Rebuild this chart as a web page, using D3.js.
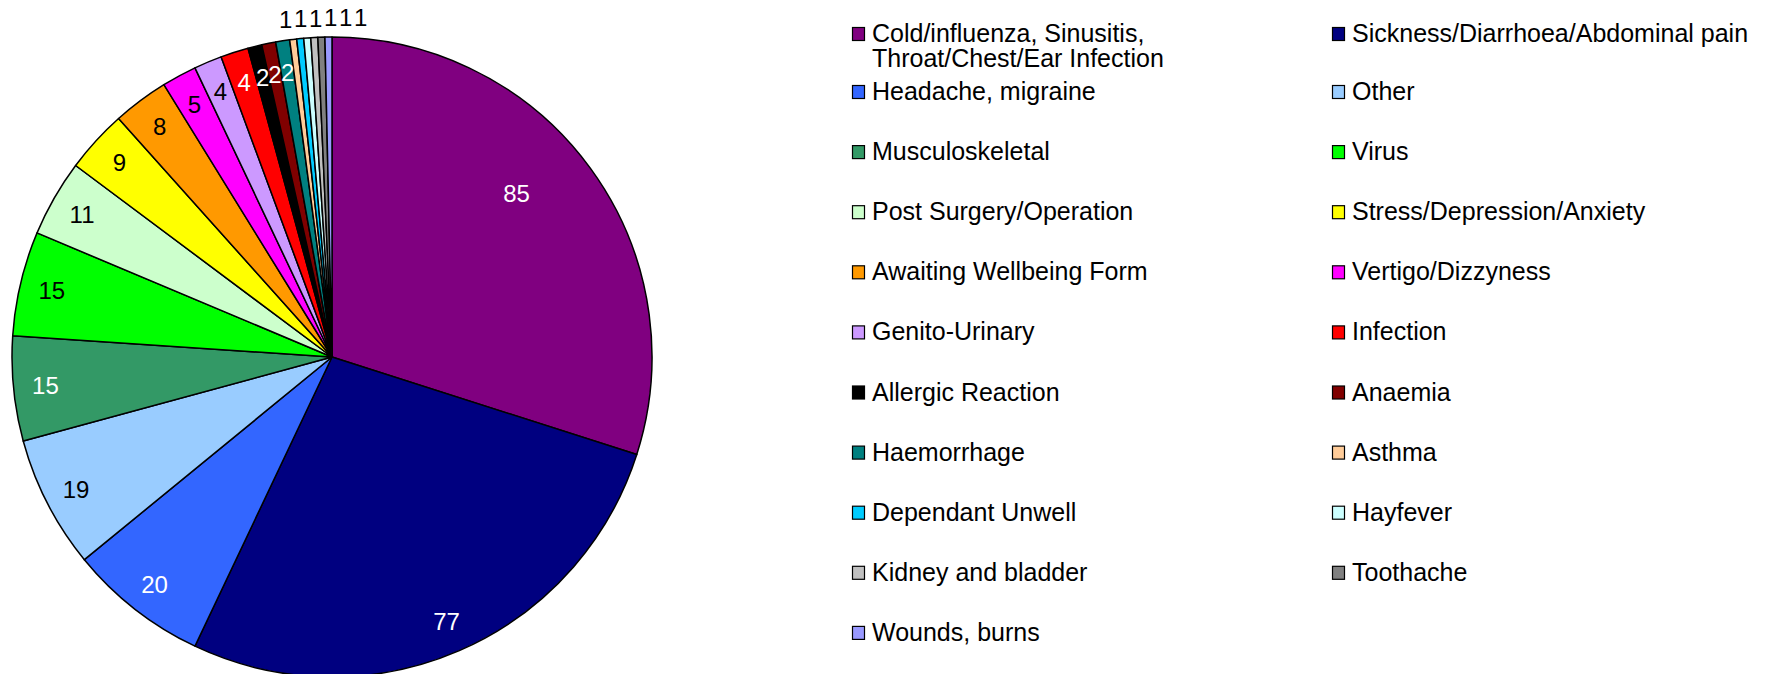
<html>
<head>
<script src="https://d3js.org/d3.v7.min.js"></script>
<style>
    body { margin: 0; background: #fff; }
    svg text { font-family: "Liberation Sans", Arial, sans-serif; }
</style>
</head>
<body>
<script>
    var categories = [
        "Cold/influenza, Sinusitis,|Throat/Chest/Ear Infection",
        "Sickness/Diarrhoea/Abdominal pain",
        "Headache, migraine",
        "Other",
        "Musculoskeletal",
        "Virus",
        "Post Surgery/Operation",
        "Stress/Depression/Anxiety",
        "Awaiting Wellbeing Form",
        "Vertigo/Dizzyness",
        "Genito-Urinary",
        "Infection",
        "Allergic Reaction",
        "Anaemia",
        "Haemorrhage",
        "Asthma",
        "Dependant Unwell",
        "Hayfever",
        "Kidney and bladder",
        "Toothache",
        "Wounds, burns"
    ];
    var values = [85, 77, 20, 19, 15, 15, 11, 9, 8, 5, 4, 4, 2, 2, 2, 1, 1, 1, 1, 1, 1];
    var colors = [
        "#800080", "#000080", "#3366FF", "#99CCFF", "#339966", "#00FF00", "#CCFFCC",
        "#FFFF00", "#FF9900", "#FF00FF", "#CC99FF", "#FF0000", "#000000", "#800000",
        "#008080", "#FFCC99", "#00CCFF", "#CCFFFF", "#C0C0C0", "#808080", "#9999FF"
    ];

    var data = categories.map(function(c, i) {
        return {name: c, value: values[i], color: colors[i]};
    });

    var width = 1775, height = 674;
    var cx = 332, cy = 357, radius = 320;

    var svg = d3.select("body").append("svg")
        .attr("width", width)
        .attr("height", height);

    var g = svg.append("g")
        .attr("transform", "translate(" + cx + "," + cy + ")");

    var pie = d3.pie()
        .sort(null)
        .value(function(d) { return d.value; });

    var arc = d3.arc().innerRadius(0).outerRadius(radius);
    var outerArc = d3.arc().innerRadius(radius + 20).outerRadius(radius + 20);

    var arcs = pie(data);

    g.selectAll("path.slice")
        .data(arcs)
        .enter().append("path")
            .attr("class", "slice")
            .attr("d", arc)
            .attr("fill", function(d) { return d.data.color; })
            .attr("stroke", "#000")
            .attr("stroke-width", 1.5)
            .attr("stroke-linejoin", "round");

    function textColor(c) {
        return d3.lab(c).l < 58 ? "#fff" : "#000";
    }

    // where a label sits inside its slice (very wide slices get pulled in a bit)
    function insidePos(d) {
        var span = d.endAngle - d.startAngle;
        var big = span > 100 * Math.PI / 180;
        var a = d.startAngle + span * (big ? 0.45 : 0.5);
        var r = radius * (big ? 0.77 : 0.9);
        return [r * Math.sin(a), -r * Math.cos(a)];
    }

    var inside = arcs.filter(function(d) { return d.data.value > 1; });
    g.selectAll("text.inlabel")
        .data(inside)
        .enter().append("text")
            .attr("class", "inlabel")
            .attr("transform", function(d) { return "translate(" + insidePos(d) + ")"; })
            .attr("text-anchor", "middle")
            .attr("dy", "0.36em")
            .attr("font-size", 24)
            .attr("fill", function(d) { return textColor(d.data.color); })
            .text(function(d) { return d.data.value; });

    // tiny slices get their labels outside, spread so they don't collide
    var outside = arcs.filter(function(d) { return d.data.value <= 1; })
        .map(function(d) {
            var p = outerArc.centroid(d);
            return {d: d, x: p[0], y: p[1]};
        });
    outside.sort(function(a, b) { return a.x - b.x; });
    outside[0].x -= 5;
    for (var i = 1; i < outside.length; i++) {
        outside[i].x = Math.max(outside[i].x, outside[i - 1].x + 15);
    }
    g.selectAll("text.outlabel")
        .data(outside)
        .enter().append("text")
            .attr("class", "outlabel")
            .attr("x", function(o) { return o.x; })
            .attr("y", function(o) { return o.y; })
            .attr("text-anchor", "middle")
            .attr("dy", "0.36em")
            .attr("font-size", 24)
            .attr("fill", "#000")
            .text(function(o) { return o.d.data.value; });

    // legend, two columns, row by row
    var colX = [852, 1332];
    function rowY(r) { return r === 0 ? 34 : 92 + (r - 1) * 60.1; }

    var legend = svg.append("g").attr("class", "legend");
    var items = legend.selectAll("g.item")
        .data(data)
        .enter().append("g")
            .attr("class", "item")
            .attr("transform", function(d, i) {
                return "translate(" + colX[i % 2] + "," + rowY(Math.floor(i / 2)) + ")";
            });

    items.append("rect")
        .attr("x", 0.5)
        .attr("y", -6.5)
        .attr("width", 12)
        .attr("height", 13)
        .attr("fill", function(d) { return d.color; })
        .attr("stroke", "#000")
        .attr("stroke-width", 1.2);

    items.append("text")
        .attr("x", 20)
        .attr("y", 8)
        .attr("font-size", 25)
        .attr("fill", "#000")
        .selectAll("tspan")
        .data(function(d) { return d.name.split("|"); })
        .enter().append("tspan")
            .attr("x", 20)
            .attr("dy", function(t, j) { return j === 0 ? 0 : 25; })
            .text(function(t) { return t; });
</script>
</body>
</html>
